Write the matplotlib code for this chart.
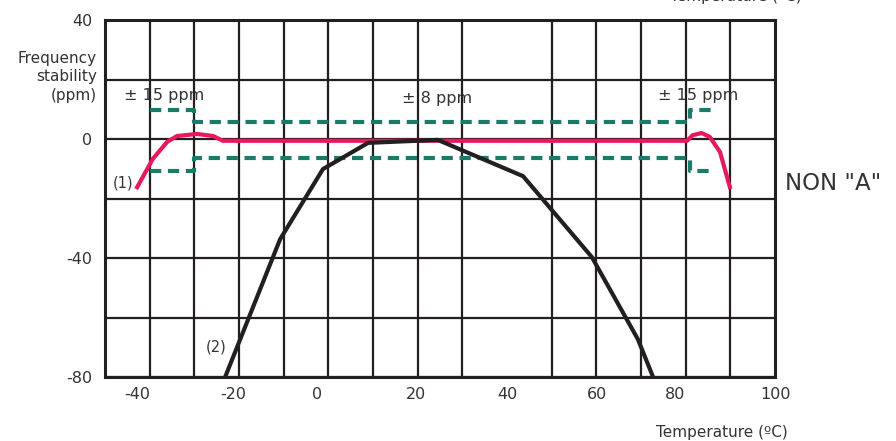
import numpy as np
import matplotlib
matplotlib.use("Agg")
import matplotlib.pyplot as plt

# curve (2): crystal
xtal_t = [-23.1, -10.8, -1.2, 8.9, 24.5, 43.6, 59.0, 69.3, 72.7]
xtal_ppm = [-80, -33.7, -10.1, -1.3, -0.3, -12.5, -39.7, -67.3, -80]

# curve (1): compensated
comp_t = [-42.8, -39.3, -36.1, -33.9, -29.4, -25.8, -23.6, 80.3, 81.6, 83.6, 85.4, 87.7, 89.9]
comp_ppm = [-16.2, -6.7, -1.0, 1.0, 1.7, 1.0, -0.6, -0.6, 1.3, 2.0, 0.7, -4.4, -16.2]

# tolerance window (dashed)
tol_t = [-40, -30, -30, 81, 81, 86.5]
tol_hi = [9.8, 9.8, 5.6, 5.6, 9.8, 9.8]
tol_lo = [-10.7, -10.7, -6.5, -6.5, -10.7, -10.7]

xlabels = ["-40", "-20", "0", "20", "40", "60", "80", "100"]
xlabel_pos = [-42.8, -21.3, -2.5, 19.6, 40.0, 60.1, 77.6, 100.0]
ylabels = [-80, -40, 0, 40]

ink = "#231f20"
txt = "#333333"

fig = plt.figure(figsize=(8.96, 4.41), dpi=100)
ax = fig.add_axes([105 / 896, 1 - 377 / 441, 670 / 896, 357 / 441])
ax.set_xlim(-50, 100)
ax.set_ylim(-80, 40)

ax.set_xticks(xlabel_pos, xlabels)
ax.set_xticks(np.arange(-40, 100, 10), minor=True)
ax.set_yticks(ylabels, [str(v) for v in ylabels])
ax.set_yticks([-60, -20, 20], minor=True)
ax.tick_params(which="both", length=0, labelsize=11.5, labelcolor=txt)
ax.tick_params(axis="y", pad=9)
ax.tick_params(axis="x", pad=7)
ax.grid(which="minor", axis="x", color=ink, lw=1.6)
ax.grid(which="both", axis="y", color=ink, lw=1.6)
ax.set_axisbelow(True)
for s in ax.spines.values():
    s.set_linewidth(2.2)
    s.set_color(ink)

ax.plot(tol_t, tol_hi, color="#1b7b6b", lw=3, dashes=(2.7, 1.6), zorder=3)
ax.plot(tol_t, tol_lo, color="#1b7b6b", lw=3, dashes=(2.7, 1.6), zorder=3)
ax.plot(comp_t, comp_ppm, color="#e8185a", lw=3, zorder=4, solid_joinstyle="round")
ax.plot(xtal_t, xtal_ppm, color=ink, lw=3, zorder=5)

ax.text(-36.8, 14.5, "± 15 ppm", fontsize=11.5, color=txt, ha="center", va="center")
ax.text(24.3, 13.5, "± 8 ppm", fontsize=11.5, color=txt, ha="center", va="center")
ax.text(82.7, 14.5, "± 15 ppm", fontsize=11.5, color=txt, ha="center", va="center")
ax.text(-43.6, -14.8, "(1)", fontsize=10.5, color=txt, ha="right", va="center")
ax.text(-22.7, -70, "(2)", fontsize=10.5, color=txt, ha="right", va="center")

fig.text(97 / 896, 1 - 77 / 441, "Frequency\nstability\n(ppm)", fontsize=11,
         color=txt, ha="right", va="center", linespacing=1.3)
fig.text(785 / 896, 1 - 183 / 441, 'NON "A"', fontsize=16.5, color=txt,
         ha="left", va="center")
fig.text(788 / 896, 1 - 432 / 441, "Temperature (ºC)", fontsize=11, color=txt,
         ha="right", va="center")
fig.text(802 / 896, 1 + 3 / 441, "Temperature (ºC)", fontsize=11, color=txt,
         ha="right", va="center")

fig.savefig("out.png", dpi=100)
